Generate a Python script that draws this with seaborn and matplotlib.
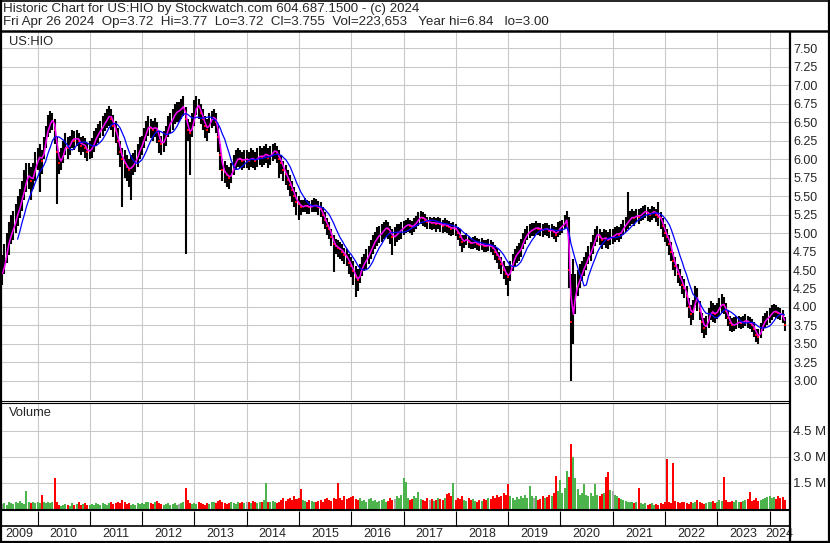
import matplotlib

matplotlib.use("Agg")

import matplotlib.dates as mdates
import matplotlib.pyplot as plt
import numpy as np
import pandas as pd
import seaborn as sns
from matplotlib.ticker import FormatStrFormatter

# semi-monthly readings, May 2009 .. Apr 2024 (one row per year)
close = [
    4.45, 4.62, 4.78, 4.92, 5.00, 5.08, 5.18, 5.30, 5.38, 5.50, 5.62, 5.75, 5.80, 5.70, 5.78, 5.90,
    6.00, 6.05, 5.98, 6.15, 6.30, 6.45, 6.50, 6.55, 6.40, 6.10, 5.95, 6.00, 6.10, 6.20, 6.15, 6.20, 6.30, 6.25, 6.30, 6.25, 6.18, 6.22, 6.15, 6.10,
    6.12, 6.15, 6.25, 6.30, 6.35, 6.40, 6.45, 6.50, 6.55, 6.60, 6.55, 6.45, 6.38, 6.25, 6.10, 6.00, 5.95, 5.90, 5.85, 5.90, 5.92, 5.98, 6.05, 6.15,
    6.20, 6.30, 6.40, 6.45, 6.42, 6.40, 6.45, 6.38, 6.25, 6.20, 6.25, 6.32, 6.45, 6.50, 6.55, 6.62, 6.65, 6.65, 6.70, 6.72, 6.55, 6.40, 6.35, 6.45,
    6.62, 6.75, 6.70, 6.62, 6.55, 6.45, 6.40, 6.50, 6.55, 6.58, 6.50, 6.30, 6.05, 5.85, 5.82, 5.78, 5.75, 5.80, 5.90, 5.98, 6.02, 6.00, 5.98, 6.00,
    6.00, 5.98, 6.02, 6.00, 5.98, 6.02, 6.05, 6.03, 6.05, 6.08, 6.02, 6.05, 6.10, 6.12, 6.08, 6.00, 5.95, 5.85, 5.80, 5.72, 5.65, 5.58, 5.50, 5.42,
    5.40, 5.35, 5.36, 5.38, 5.36, 5.35, 5.36, 5.38, 5.37, 5.35, 5.32, 5.25, 5.18, 5.10, 5.05, 4.95, 4.85, 4.82, 4.80, 4.78, 4.75, 4.70, 4.68, 4.60,
    4.55, 4.48, 4.40, 4.36, 4.45, 4.55, 4.60, 4.65, 4.70, 4.78, 4.85, 4.90, 4.95, 4.98, 5.00, 5.05, 5.08, 5.05, 5.00, 4.95, 4.95, 5.00, 5.02, 5.05,
    5.08, 5.10, 5.12, 5.10, 5.08, 5.12, 5.15, 5.20, 5.22, 5.20, 5.18, 5.15, 5.15, 5.13, 5.15, 5.12, 5.14, 5.12, 5.10, 5.12, 5.10, 5.08, 5.06, 5.08,
    5.05, 5.00, 4.95, 4.88, 4.90, 4.92, 4.88, 4.86, 4.87, 4.88, 4.85, 4.84, 4.85, 4.83, 4.82, 4.84, 4.82, 4.80, 4.75, 4.70, 4.65, 4.58, 4.50, 4.45,
    4.40, 4.50, 4.60, 4.68, 4.72, 4.75, 4.80, 4.90, 4.95, 5.00, 5.02, 5.05, 5.05, 5.08, 5.06, 5.05, 5.04, 5.06, 5.05, 5.03, 5.04, 5.02, 4.98, 5.05,
    5.08, 5.10, 5.15, 5.20, 4.50, 3.80, 4.00, 4.25, 4.30, 4.40, 4.48, 4.55, 4.62, 4.70, 4.75, 4.85, 4.95, 5.00, 4.95, 4.90, 4.95, 4.92, 4.90, 4.95,
    4.95, 4.98, 5.00, 4.98, 5.02, 5.08, 5.12, 5.15, 5.20, 5.22, 5.20, 5.25, 5.22, 5.25, 5.28, 5.30, 5.27, 5.25, 5.28, 5.30, 5.25, 5.22, 5.20, 5.10,
    5.00, 4.95, 4.85, 4.75, 4.62, 4.55, 4.45, 4.40, 4.30, 4.25, 4.15, 4.00, 3.90, 3.95, 4.15, 4.10, 3.95, 3.80, 3.72, 3.75, 3.85, 3.95, 3.92, 3.90,
    3.95, 4.00, 4.05, 4.02, 3.95, 3.85, 3.78, 3.75, 3.76, 3.78, 3.80, 3.78, 3.80, 3.82, 3.80, 3.78, 3.76, 3.70, 3.62, 3.60, 3.68, 3.78, 3.82, 3.85,
    3.88, 3.92, 3.95, 3.93, 3.92, 3.90, 3.88, 3.76,
]

high = [
    4.70, 4.85, 5.00, 5.15, 5.25, 5.30, 5.40, 5.50, 5.60, 5.70, 5.85, 5.95, 5.95, 5.90, 5.95, 6.10,
    6.15, 6.20, 6.12, 6.30, 6.45, 6.60, 6.65, 6.62, 6.55, 6.30, 6.10, 6.15, 6.25, 6.35, 6.30, 6.32, 6.40, 6.38, 6.40, 6.35, 6.30, 6.32, 6.28, 6.22,
    6.25, 6.28, 6.38, 6.42, 6.48, 6.52, 6.58, 6.62, 6.68, 6.72, 6.68, 6.60, 6.52, 6.42, 6.25, 6.15, 6.12, 6.05, 6.00, 6.05, 6.08, 6.12, 6.20, 6.30,
    6.32, 6.42, 6.52, 6.58, 6.55, 6.52, 6.56, 6.50, 6.38, 6.32, 6.38, 6.45, 6.58, 6.62, 6.68, 6.75, 6.78, 6.78, 6.82, 6.85, 6.70, 6.55, 6.50, 6.62,
    6.80, 6.85, 6.82, 6.75, 6.68, 6.58, 6.55, 6.62, 6.65, 6.68, 6.62, 6.45, 6.20, 6.00, 5.98, 5.92, 5.90, 5.95, 6.05, 6.12, 6.15, 6.12, 6.10, 6.12,
    6.12, 6.10, 6.15, 6.12, 6.10, 6.15, 6.18, 6.15, 6.18, 6.20, 6.15, 6.18, 6.20, 6.22, 6.18, 6.12, 6.05, 5.98, 5.92, 5.85, 5.78, 5.70, 5.62, 5.55,
    5.50, 5.45, 5.45, 5.48, 5.45, 5.44, 5.45, 5.48, 5.46, 5.44, 5.42, 5.35, 5.28, 5.20, 5.15, 5.05, 4.98, 4.92, 4.90, 4.88, 4.85, 4.80, 4.78, 4.72,
    4.68, 4.62, 4.55, 4.52, 4.58, 4.68, 4.72, 4.78, 4.82, 4.90, 4.98, 5.02, 5.08, 5.10, 5.12, 5.15, 5.18, 5.15, 5.10, 5.05, 5.08, 5.12, 5.12, 5.15,
    5.16, 5.18, 5.20, 5.18, 5.16, 5.20, 5.23, 5.28, 5.30, 5.28, 5.26, 5.22, 5.22, 5.20, 5.22, 5.20, 5.22, 5.20, 5.18, 5.20, 5.18, 5.16, 5.14, 5.15,
    5.12, 5.08, 5.05, 4.98, 4.98, 5.00, 4.96, 4.94, 4.95, 4.96, 4.93, 4.92, 4.93, 4.91, 4.90, 4.92, 4.90, 4.88, 4.84, 4.80, 4.75, 4.68, 4.62, 4.56,
    4.55, 4.62, 4.72, 4.78, 4.82, 4.86, 4.92, 5.00, 5.05, 5.10, 5.12, 5.14, 5.14, 5.16, 5.14, 5.13, 5.12, 5.14, 5.13, 5.11, 5.12, 5.10, 5.08, 5.15,
    5.16, 5.18, 5.25, 5.30, 5.22, 4.45, 4.65, 4.45, 4.50, 4.58, 4.62, 4.68, 4.75, 4.82, 4.88, 4.98, 5.05, 5.10, 5.06, 5.02, 5.05, 5.04, 5.02, 5.06,
    5.05, 5.08, 5.10, 5.08, 5.12, 5.18, 5.22, 5.55, 5.30, 5.32, 5.30, 5.32, 5.32, 5.34, 5.36, 5.38, 5.35, 5.33, 5.36, 5.35, 5.33, 5.42, 5.28, 5.20,
    5.12, 5.05, 4.98, 4.88, 4.75, 4.68, 4.58, 4.52, 4.42, 4.38, 4.28, 4.12, 4.02, 4.10, 4.28, 4.25, 4.08, 3.92, 3.85, 3.88, 3.98, 4.08, 4.05, 4.02,
    4.06, 4.12, 4.17, 4.14, 4.06, 3.96, 3.88, 3.85, 3.86, 3.88, 3.88, 3.87, 3.88, 3.90, 3.88, 3.86, 3.84, 3.79, 3.70, 3.70, 3.78, 3.88, 3.92, 3.95,
    3.98, 4.02, 4.04, 4.02, 4.00, 3.98, 3.96, 3.86,
]

low = [
    4.30, 4.45, 4.60, 4.70, 4.85, 4.90, 5.00, 5.10, 5.20, 5.30, 5.45, 5.55, 5.60, 5.45, 5.60, 5.70,
    5.85, 5.55, 5.80, 6.00, 6.15, 6.30, 6.35, 6.40, 6.20, 5.40, 5.80, 5.85, 5.95, 6.05, 6.00, 6.05, 6.15, 6.12, 6.18, 6.10, 6.05, 6.10, 6.02, 5.98,
    6.00, 6.02, 6.10, 6.18, 6.22, 6.28, 6.32, 6.38, 6.42, 6.45, 6.40, 6.30, 6.22, 6.05, 5.90, 5.35, 5.75, 5.70, 5.62, 5.45, 5.78, 5.82, 5.90, 6.00,
    6.05, 6.15, 6.25, 6.32, 6.28, 6.25, 6.30, 6.22, 6.08, 6.05, 6.10, 6.18, 6.30, 6.35, 6.40, 6.48, 6.50, 6.50, 6.55, 6.58, 4.72, 6.25, 5.78, 6.30,
    6.45, 6.60, 6.55, 6.48, 6.40, 6.28, 6.25, 6.35, 6.42, 6.45, 6.35, 6.10, 5.85, 5.70, 5.68, 5.62, 5.60, 5.68, 5.78, 5.85, 5.90, 5.88, 5.85, 5.88,
    5.88, 5.85, 5.90, 5.88, 5.85, 5.90, 5.92, 5.90, 5.92, 5.95, 5.88, 5.92, 5.98, 6.00, 5.95, 5.75, 5.80, 5.70, 5.65, 5.58, 5.50, 5.42, 5.35, 5.25,
    5.18, 5.25, 5.28, 5.28, 5.26, 5.26, 5.28, 5.28, 5.28, 5.25, 5.22, 5.12, 5.05, 4.98, 4.92, 4.82, 4.47, 4.72, 4.68, 4.65, 4.62, 4.58, 4.55, 4.45,
    4.40, 4.30, 4.14, 4.22, 4.32, 4.42, 4.48, 4.52, 4.58, 4.65, 4.72, 4.78, 4.82, 4.86, 4.88, 4.92, 4.95, 4.92, 4.85, 4.70, 4.82, 4.88, 4.90, 4.92,
    4.98, 5.00, 5.02, 5.00, 4.98, 5.02, 5.05, 5.10, 5.12, 5.10, 5.08, 5.05, 5.06, 5.04, 5.06, 5.02, 5.05, 5.02, 5.00, 5.02, 5.00, 4.98, 4.96, 4.98,
    4.96, 4.90, 4.82, 4.75, 4.80, 4.84, 4.80, 4.78, 4.79, 4.80, 4.77, 4.76, 4.77, 4.75, 4.74, 4.76, 4.74, 4.70, 4.64, 4.60, 4.52, 4.45, 4.38, 4.30,
    4.15, 4.35, 4.48, 4.55, 4.60, 4.62, 4.68, 4.78, 4.85, 4.90, 4.93, 4.96, 4.96, 4.99, 4.97, 4.96, 4.95, 4.97, 4.96, 4.94, 4.95, 4.92, 4.88, 4.95,
    4.98, 5.00, 5.05, 5.08, 4.25, 3.00, 3.50, 3.90, 4.15, 4.25, 4.35, 4.42, 4.50, 4.58, 4.62, 4.72, 4.82, 4.88, 4.84, 4.78, 4.84, 4.80, 4.78, 4.84,
    4.85, 4.88, 4.90, 4.88, 4.92, 4.98, 5.02, 5.05, 5.10, 5.12, 5.10, 5.15, 5.12, 5.16, 5.18, 5.20, 5.17, 5.15, 5.18, 5.20, 5.15, 5.10, 5.05, 4.95,
    4.88, 4.82, 4.70, 4.62, 4.50, 4.42, 4.32, 4.28, 4.18, 4.12, 4.00, 3.85, 3.76, 3.82, 4.02, 3.95, 3.82, 3.65, 3.58, 3.62, 3.72, 3.82, 3.80, 3.78,
    3.84, 3.88, 3.92, 3.90, 3.84, 3.74, 3.68, 3.66, 3.68, 3.70, 3.72, 3.70, 3.72, 3.74, 3.72, 3.70, 3.66, 3.60, 3.52, 3.50, 3.58, 3.68, 3.72, 3.76,
    3.78, 3.82, 3.86, 3.85, 3.84, 3.82, 3.78, 3.68,
]

# volume in millions of shares
volume = [
    0.25, 0.3, 0.2, 0.35, 0.3, 0.25, 0.4, 0.3, 0.45, 0.3, 0.25, 1.0, 0.35, 0.3, 0.4, 0.3,
    0.35, 0.3, 0.78, 0.4, 0.3, 0.35, 0.3, 0.4, 1.75, 0.35, 0.2, 0.15, 0.2, 0.25, 0.2, 0.15, 0.3, 0.2, 0.25, 0.35, 0.2, 0.25, 0.3, 0.2,
    0.2, 0.25, 0.2, 0.3, 0.25, 0.2, 0.3, 0.25, 0.2, 0.3, 0.35, 0.25, 0.3, 0.4, 0.3, 0.5, 0.35, 0.25, 0.3, 0.2, 0.25, 0.2, 0.3, 0.25,
    0.3, 0.25, 0.35, 0.4, 0.3, 0.25, 0.35, 0.45, 0.3, 0.25, 0.2, 0.25, 0.3, 0.2, 0.25, 0.3, 0.2, 0.25, 0.3, 0.35, 1.17, 0.5, 0.3, 0.25,
    0.3, 0.25, 0.35, 0.3, 0.25, 0.2, 0.3, 0.25, 0.35, 0.4, 0.3, 0.45, 0.5, 0.35, 0.3, 0.25, 0.3, 0.35, 0.3, 0.25, 0.4, 0.3, 0.35, 0.3,
    0.35, 0.4, 0.3, 0.45, 0.35, 0.3, 0.4, 0.35, 0.5, 1.5, 0.4, 0.35, 0.45, 0.4, 0.3, 0.35, 0.5, 0.6, 0.45, 0.55, 0.6, 0.5, 0.7, 0.55,
    0.6, 1.1, 0.5, 0.45, 0.4, 0.5, 0.45, 0.4, 0.35, 0.45, 0.5, 0.4, 0.55, 0.6, 0.5, 0.45, 0.6, 0.55, 1.5, 0.6, 0.5, 0.7, 0.55, 0.6,
    0.65, 0.7, 0.55, 0.5, 0.6, 0.45, 0.5, 0.4, 0.55, 0.6, 0.45, 0.5, 0.4, 0.45, 0.5, 0.55, 0.4, 0.45, 0.6, 0.5, 0.55, 0.7, 0.6, 0.8,
    1.75, 1.55, 0.6, 0.5, 0.55, 0.7, 0.6, 0.97, 0.55, 0.5, 0.45, 0.6, 0.5, 0.55, 0.45, 0.5, 0.6, 0.55, 0.5, 0.6, 0.85, 0.9, 0.7, 1.45,
    0.5, 0.6, 0.55, 0.7, 0.5, 0.45, 0.6, 0.5, 0.55, 0.45, 0.4, 0.5, 0.45, 0.55, 0.5, 0.6, 0.55, 0.7, 0.6, 0.8, 0.65, 0.7, 0.9, 0.8,
    1.4, 0.7, 0.6, 0.5, 0.65, 0.55, 0.7, 0.6, 0.8, 0.6, 1.27, 0.7, 0.6, 0.75, 0.5, 0.55, 0.7, 0.6, 0.65, 0.8, 0.7, 0.9, 1.9, 1.0,
    1.65, 0.9, 1.2, 2.17, 1.81, 3.73, 2.95, 1.75, 1.1, 0.8, 0.9, 1.42, 0.8, 0.7, 0.9, 0.75, 1.42, 0.8, 0.7, 0.85, 0.9, 1.79, 2.13, 1.08,
    1.0, 0.8, 0.7, 0.6, 0.55, 0.5, 0.45, 0.4, 0.35, 0.4, 0.3, 0.35, 1.17, 0.3, 0.25, 0.3, 0.2, 0.25, 0.3, 0.2, 0.25, 0.2, 0.3, 0.25,
    0.35, 2.85, 0.4, 0.3, 2.65, 0.45, 0.35, 0.3, 0.4, 0.35, 0.3, 0.25, 0.35, 0.3, 0.4, 0.5, 0.35, 0.3, 0.25, 0.3, 0.4, 0.35, 0.45, 0.3,
    0.4, 0.5, 0.45, 1.8, 0.5, 0.4, 0.35, 0.45, 0.4, 0.5, 0.35, 0.4, 0.45, 0.5, 0.55, 0.97, 0.45, 0.5, 0.6, 0.45, 0.5, 0.55, 0.6, 0.65,
    0.7, 0.6, 0.65, 0.55, 0.7, 0.6, 0.65, 0.5,
]

price_ticks = [3.00, 3.25, 3.50, 3.75, 4.00, 4.25, 4.50, 4.75, 5.00, 5.25, 5.50, 5.75, 6.00, 6.25, 6.50, 6.75, 7.00, 7.25, 7.50]
volume_ticks = [1.5e6, 3.0e6, 4.5e6]
volume_tick_labels = ["1.5 M", "3.0 M", "4.5 M"]
year_labels = list(range(2009, 2025))

header_1 = "Historic Chart for US:HIO by Stockwatch.com 604.687.1500 - (c) 2024"
header_2 = "Fri Apr 26 2024  Op=3.72  Hi=3.77  Lo=3.72  Cl=3.755  Vol=223,653   Year hi=6.84   lo=3.00"

sns.set_style("white")
plt.rcParams["font.family"] = ["Liberation Sans", "DejaVu Sans"]

df = pd.DataFrame({
    "date": pd.date_range("2009-05-01", periods=len(close), freq="SMS"),
    "close": close,
    "high": high,
    "low": low,
    "volume": np.array(volume) * 1e6,
})
df["x"] = mdates.date2num(df["date"])
df["ma_fast"] = df["close"].rolling(2, min_periods=1).mean()
df["ma_slow"] = df["close"].rolling(8).mean()
change = df["close"].diff().fillna(0)
df["vcolor"] = np.where(change > 0, "#4db34d", np.where(change < 0, "#ff0000", "#a8a8a8"))

W, H = 830, 543
fig = plt.figure(figsize=(W / 100, H / 100), dpi=100)


def px_axes(left, top, right, bottom):
    return fig.add_axes([left / W, 1 - bottom / H, (right - left) / W, (bottom - top) / H])


x_left = mdates.date2num(pd.Timestamp("2009-04-28"))
x_right = mdates.date2num(pd.Timestamp("2024-05-16"))
year_starts = [mdates.date2num(pd.Timestamp(f"{y}-01-01")) for y in range(2010, 2025)]
grid_kw = dict(color="#c8c8c8", lw=0.75)

# price panel
ax = px_axes(2, 32, 789, 400)
ax.vlines(df["x"], df["low"], df["high"], color="black", lw=1.5, zorder=2)
sns.scatterplot(data=df[change < 0], x="x", y="close", marker="s", s=3, color="#ff0000",
                linewidth=0, ax=ax, zorder=3)
sns.lineplot(data=df, x="x", y="ma_fast", color="#ff00ff", lw=1.1, ax=ax, zorder=4)
sns.lineplot(data=df, x="x", y="ma_slow", color="#0000ff", lw=0.9, ax=ax, zorder=5)
ax.set_xlim(x_left, x_right)
ax.set_ylim(2.741, 7.721)
ax.set_yticks(price_ticks)
ax.yaxis.tick_right()
ax.yaxis.set_major_formatter(FormatStrFormatter("%.2f"))
ax.tick_params(axis="y", length=0, pad=3, labelsize=9)
ax.set_xticks(year_starts)
ax.tick_params(axis="x", length=0, labelbottom=False)
ax.grid(True, **grid_kw)
ax.set_axisbelow(True)
ax.set_xlabel("")
ax.set_ylabel("")
for spine in ax.spines.values():
    spine.set_visible(False)

# volume panel
axv = px_axes(2, 403, 789, 508.5)
axv.bar(df["x"], df["volume"], width=14, color=df["vcolor"], linewidth=0, zorder=2)
axv.set_xlim(x_left, x_right)
axv.set_ylim(0, 6.087e6)
axv.set_yticks(volume_ticks)
axv.set_yticklabels(volume_tick_labels)
axv.yaxis.tick_right()
axv.tick_params(axis="y", length=0, pad=3, labelsize=9.5)
axv.set_xticks(year_starts)
axv.tick_params(axis="x", length=0, labelbottom=False)
axv.grid(True, **grid_kw)
axv.set_axisbelow(True)
for spine in axv.spines.values():
    spine.set_visible(False)

# date strip
axs = px_axes(2, 509, 789, 541)
axs.set_xlim(x_left, x_right)
axs.set_ylim(541, 509)
axs.vlines(year_starts, 511, 525.5, color="black", lw=0.8)
bounds = [x_left] + year_starts + [mdates.date2num(pd.Timestamp("2024-05-10"))]
for i, year in enumerate(year_labels):
    axs.text((bounds[i] + bounds[i + 1]) / 2, 534, str(year), ha="center", va="center", fontsize=9)
axs.axis("off")

# frame, separators and captions
axo = fig.add_axes([0, 0, 1, 1], facecolor="none", zorder=20)
axo.set_xlim(0, W)
axo.set_ylim(H, 0)
axo.axis("off")
frame_kw = dict(color="black", solid_capstyle="butt")
axo.plot([1, 1], [0, H], lw=1.6, **frame_kw)
axo.plot([829, 829], [0, H], lw=1.6, **frame_kw)
axo.plot([0, W], [0.5, 0.5], lw=1.2, **frame_kw)
axo.plot([0, W], [542, 542], lw=1.6, **frame_kw)
axo.plot([0, W], [31, 31], lw=1.8, **frame_kw)
axo.plot([789.5, 789.5], [31, H], lw=1.6, **frame_kw)
axo.plot([0, 789], [400.5, 400.5], lw=0.8, **frame_kw)
axo.plot([0, 789], [403, 403], lw=0.8, **frame_kw)
axo.plot([0, 789], [510, 510], lw=1.5, **frame_kw)
axo.plot([0, 789], [526, 526], lw=1.2, **frame_kw)

axo.text(3, 9, header_1, ha="left", va="center", fontsize=9.6)
axo.text(3, 22, header_2, ha="left", va="center", fontsize=9.6)
axo.text(9, 42, "US:HIO", ha="left", va="center", fontsize=9.3)
axo.text(9, 413, "Volume", ha="left", va="center", fontsize=9.3)

fig.savefig("out.png", dpi=100, facecolor="white")
